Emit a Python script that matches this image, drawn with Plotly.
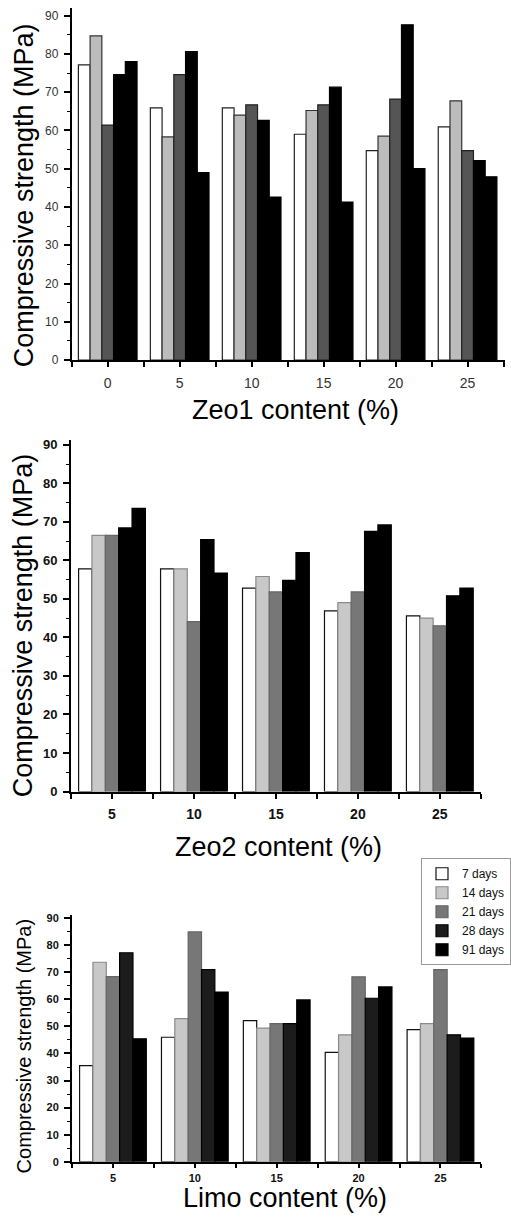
import plotly.graph_objects as go

W, H = 511, 1221

# Curing ages (legend entries)
ages = ["7 days", "14 days", "21 days", "28 days", "91 days"]

# Zeo1 series (MPa)
zeo1_content = [0, 5, 10, 15, 20, 25]
zeo1_7d = [77.1, 65.9, 65.9, 59.0, 54.7, 60.9]
zeo1_14d = [84.7, 58.3, 64.0, 65.2, 58.5, 67.7]
zeo1_21d = [61.4, 74.6, 66.7, 66.7, 68.2, 54.7]
zeo1_28d = [74.6, 80.6, 62.6, 71.3, 87.6, 52.1]
zeo1_91d = [78.0, 49.0, 42.6, 41.3, 50.0, 47.9]

# Zeo2 series (MPa)
zeo2_content = [5, 10, 15, 20, 25]
zeo2_7d = [57.8, 57.8, 52.8, 46.9, 45.6]
zeo2_14d = [66.5, 57.8, 55.8, 49.0, 45.0]
zeo2_21d = [66.5, 44.1, 51.8, 51.8, 43.0]
zeo2_28d = [68.4, 65.4, 54.8, 67.5, 50.8]
zeo2_91d = [73.5, 56.7, 62.0, 69.2, 52.8]

# Limo series (MPa)
limo_content = [5, 10, 15, 20, 25]
limo_7d = [35.5, 46.0, 52.1, 40.4, 48.8]
limo_14d = [73.7, 52.9, 49.4, 46.9, 51.0]
limo_21d = [68.4, 84.9, 51.0, 68.3, 71.0]
limo_28d = [77.2, 71.0, 51.0, 60.4, 46.9]
limo_91d = [45.4, 62.7, 59.8, 64.6, 45.7]

FONT = "Arial, Liberation Sans, sans-serif"


def fx(px):
    return px / W


def fy(px):
    return 1 - px / H


panels = [
    dict(
        name="1", content=zeo1_content,
        values=[zeo1_7d, zeo1_14d, zeo1_21d, zeo1_28d, zeo1_91d],
        fills=["#ffffff", "#bcbcbc", "#555555", "#000000", "#000000"],
        lines=["#222222", "#333333", "#222222", "#000000", "#000000"],
        xdom=(72, 507), ydom=(5, 360.3), xrange=(-2.5, 27.6), yrange=(0, 92),
        xtick=dict(size=14, color="#333333"), ytick=dict(size=12, color="#333333"),
        xlen=5, xstand=4,
        xtitle="Zeo1 content (%)", xt_pos=(297, 411), yt_pos=(24, 194), yt_size=27,
        legend=False,
    ),
    dict(
        name="2", content=zeo2_content,
        values=[zeo2_7d, zeo2_14d, zeo2_21d, zeo2_28d, zeo2_91d],
        fills=["#ffffff", "#c8c8c8", "#777777", "#000000", "#000000"],
        lines=["#111111", "#8a8a8a", "#666666", "#000000", "#000000"],
        xdom=(71.3, 482.7), ydom=(440.7, 795.7), xrange=(2.5, 27.5), yrange=(0, 91.3),
        xtick=dict(size=14, color="#111111", weight="bold"),
        ytick=dict(size=13, color="#111111", weight="bold"),
        xlen=5, xstand=4,
        xtitle="Zeo2 content (%)", xt_pos=(280, 852), yt_pos=(23, 628), yt_size=27,
        legend=False,
    ),
    dict(
        name="3", content=limo_content,
        values=[limo_7d, limo_14d, limo_21d, limo_28d, limo_91d],
        fills=["#ffffff", "#c8c8c8", "#777777", "#1c1c1c", "#000000"],
        lines=["#111111", "#8a8a8a", "#666666", "#000000", "#000000"],
        xdom=(72.3, 483.3), ydom=(920.7, 1169.3), xrange=(2.5, 27.5), yrange=(0, 91),
        xtick=dict(size=11, color="#111111", weight="bold"),
        ytick=dict(size=11, color="#111111", weight="bold"),
        xlen=4, xstand=1,
        xtitle="Limo content (%)", xt_pos=(286, 1206), yt_pos=(24, 1052), yt_size=20,
        legend=True,
    ),
]

fig = go.Figure()
annotations = []
layout = dict(
    width=W, height=H,
    margin=dict(l=0, r=0, t=0, b=0),
    paper_bgcolor="white", plot_bgcolor="white",
    barmode="group", bargap=0.185,
    font=dict(family=FONT, color="#000000"),
    showlegend=True,
    legend=dict(
        x=fx(423), y=fy(863), xanchor="left", yanchor="top",
        bgcolor="white", bordercolor="#999999", borderwidth=1,
        font=dict(family=FONT, size=12, color="#111111"),
        traceorder="normal", tracegroupgap=0, itemwidth=30,
    ),
)

for p in panels:
    n = p["name"]
    xa = "x" if n == "1" else "x" + n
    ya = "y" if n == "1" else "y" + n
    for i, age in enumerate(ages):
        fig.add_trace(go.Bar(
            x=p["content"], y=p["values"][i], name=age,
            xaxis=xa, yaxis=ya, legendgroup=age, showlegend=p["legend"],
            marker=dict(
                color=p["fills"][i],
                line=dict(color=p["lines"][i], width=1.2),
            ),
        ))
    layout["xaxis" + ("" if n == "1" else n)] = dict(
        domain=[fx(p["xdom"][0]), fx(p["xdom"][1])],
        anchor=ya, range=list(p["xrange"]),
        tickmode="array", tickvals=p["content"],
        ticktext=[str(v) for v in p["content"]],
        ticks="outside", ticklen=p["xlen"], tickwidth=1.5, tickcolor="#000000",
        minor=dict(ticks="outside", dtick=2.5, tick0=0, ticklen=p["xlen"],
                   tickwidth=1.5, tickcolor="#000000"),
        showline=True, linecolor="#000000", linewidth=2,
        showgrid=False, zeroline=False,
        tickfont=dict(family=FONT, **p["xtick"]),
        ticklabelstandoff=p["xstand"],
    )
    layout["yaxis" + ("" if n == "1" else n)] = dict(
        domain=[fy(p["ydom"][1]), fy(p["ydom"][0])],
        anchor=xa, range=list(p["yrange"]),
        tickmode="linear", tick0=0, dtick=10,
        ticks="outside", ticklen=6, tickwidth=1.5, tickcolor="#000000",
        minor=dict(ticks="outside", dtick=5, tick0=0, ticklen=3,
                   tickwidth=1.2, tickcolor="#000000"),
        showline=True, linecolor="#000000", linewidth=2,
        showgrid=False, zeroline=False,
        tickfont=dict(family=FONT, **p["ytick"]),
        ticklabelstandoff=3,
    )
    annotations.append(dict(
        text=p["xtitle"], xref="paper", yref="paper",
        x=fx(p["xt_pos"][0]), y=fy(p["xt_pos"][1]),
        xanchor="center", yanchor="middle", showarrow=False,
        font=dict(family=FONT, size=27, color="#000000"),
    ))
    annotations.append(dict(
        text="Compressive strength (MPa)", xref="paper", yref="paper",
        x=fx(p["yt_pos"][0]), y=fy(p["yt_pos"][1]), textangle=-90,
        xanchor="center", yanchor="middle", showarrow=False,
        font=dict(family=FONT, size=p["yt_size"], color="#000000"),
    ))

layout["annotations"] = annotations
fig.update_layout(**layout)

fig.write_html("out.html")
